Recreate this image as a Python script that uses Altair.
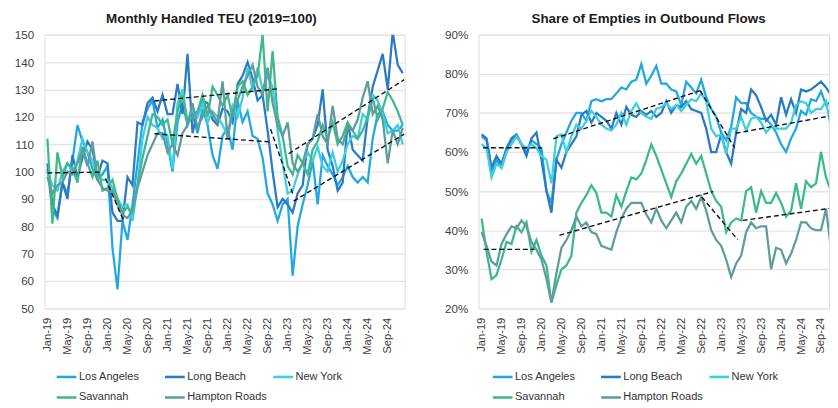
import json
import altair as alt
import pandas as pd

ports = ["Los Angeles", "Long Beach", "New York", "Savannah", "Hampton Roads"]
colors = ["#22a7e2", "#2b7bc4", "#3ccfe2", "#3db98b", "#5e9d9c"]
tick_labels = ["Jan-19", "May-19", "Sep-19", "Jan-20", "May-20", "Sep-20", "Jan-21", "May-21", "Sep-21",
               "Jan-22", "May-22", "Sep-22", "Jan-23", "May-23", "Sep-23", "Jan-24", "May-24", "Sep-24"]
months = list(range(72))  # Jan-19 .. Dec-24

# ---- Monthly Handled TEU (2019=100) ----
teu_la = [101, 86, 83, 96, 92, 104, 117, 111, 107, 101, 97, 99,
          102, 72, 57, 82, 75, 88, 103, 118, 123, 126, 116, 119,
          110, 100, 118, 125, 117, 121, 114, 123, 117, 106, 101, 113,
          116, 108, 126, 118, 122, 113, 112, 105, 92, 88, 82, 88,
          90, 62, 80, 88, 95, 104, 88, 106, 102, 99, 95, 98,
          102, 98, 96, 98, 96, 112, 121, 122, 117, 115, 115, 117]
teu_lb = [103, 88, 84, 96, 90, 106, 98, 105, 111, 108, 98, 104,
          103, 85, 82, 82, 98, 95, 118, 117, 125, 127, 122, 128,
          121, 121, 132, 121, 143, 114, 122, 126, 125, 119, 117, 123,
          122, 118, 132, 135, 140, 134, 126, 128, 115, 100, 87, 90,
          88, 85, 92, 95, 110, 112, 117, 130, 108, 102, 93, 96,
          118, 108, 106, 104, 120, 131, 137, 143, 130, 151, 139, 136]
teu_ny = [100, 95, 93, 100, 103, 100, 104, 112, 107, 104, 98, 97,
          97, 94, 90, 87, 88, 82, 95, 112, 120, 117, 116, 112,
          113, 101, 125, 130, 118, 123, 120, 125, 118, 122, 120, 117,
          113, 124, 120, 127, 138, 130, 138, 130, 135, 131, 115, 103,
          92, 93, 99, 103, 107, 104, 109, 102, 100, 107, 100, 104,
          110, 113, 112, 121, 119, 128, 126, 121, 114, 115, 117, 110]
teu_sav = [112, 81, 107, 98, 103, 101, 96, 109, 103, 98, 104, 93,
           94, 97, 90, 85, 87, 85, 95, 105, 113, 121, 120, 117,
           119, 110, 122, 128, 118, 120, 122, 128, 120, 131, 128, 124,
           128, 120, 131, 133, 128, 131, 135, 150, 122, 144, 120, 113,
           102, 99, 106, 103, 99, 108, 111, 117, 112, 118, 110, 113,
           118, 115, 112, 115, 120, 127, 119, 123, 129, 126, 122, 117]
teu_hr = [98, 92, 95, 96, 100, 99, 103, 108, 102, 111, 97, 94,
          93, 93, 88, 84, 83, 86, 94, 100, 106, 110, 114, 114,
          107, 110, 106, 114, 117, 125, 116, 120, 124, 121, 118, 133,
          112, 122, 126, 131, 135, 139, 131, 128, 138, 125, 117, 113,
          118, 103, 100, 103, 110, 112, 121, 113, 110, 124, 112, 110,
          116, 115, 119, 127, 133, 121, 124, 119, 103, 115, 110, 116]

# trend segments: month start, value start, month end, value end
teu_tr_x1 = [0, 11.6, 21.4, 21.4, 44.6, 48.2, 49.2]
teu_tr_y1 = [99.5, 97.5, 125.8, 113.8, 115.5, 106.5, 89.2]
teu_tr_x2 = [10.6, 15.1, 45.9, 44.2, 49.0, 71.3, 71.3]
teu_tr_y2 = [99.8, 82.5, 130.2, 110.9, 92.0, 133.6, 113.7]

# ---- Share of Empties in Outbound Flows (%) ----
emp_la = [64, 63, 55, 58, 56, 60, 63, 64, 62, 60, 63, 62,
          61, 50, 47, 58, 62, 65, 68, 70, 70, 68, 73, 73.5,
          73, 73.5, 73.5, 75, 76.5, 76, 78, 78.5, 82.5, 77.5, 79.5, 82,
          77.5, 77.5, 76, 75.5, 72, 78, 76.5, 75, 78.5, 74, 71, 69,
          65, 63, 66.5, 74, 72.5, 72.5, 70, 69, 68.5, 68.5, 67, 65,
          62, 60, 63.5, 66, 70.5, 69.5, 73.5, 73, 75.5, 72, 73, 72]
emp_lb = [64.5, 63.5, 56, 59, 57, 61, 63.5, 64.5, 62, 59, 63.5, 65,
          58, 50, 44.5, 58, 56, 60, 62, 64, 69.5, 70.5, 67.5, 70,
          69, 68, 66, 70, 67, 71.5, 69.5, 69, 70.5, 69.5, 70.5, 69,
          70, 73, 70, 72, 71.5, 73, 71, 70.5, 70, 66, 60, 60,
          64.5, 60, 57, 65, 71, 70, 76, 74.5, 71.5, 68, 69.5, 67,
          74, 69.5, 73.5, 70, 76, 75.5, 76, 77, 78, 76.5, 74.5, 76]
emp_ny = [62, 61, 53.5, 57, 56, 60, 62, 64, 62, 61, 62, 61,
          59, 58, 52, 64, 64.5, 60, 64, 67, 66, 68, 70.5, 69,
          67, 66, 65.5, 67, 70, 67, 70.5, 72.5, 70, 69, 68.5, 71,
          71.5, 72.5, 71, 72, 70.5, 72, 73.5, 73, 75, 73, 66, 64,
          64.5, 59.5, 66, 66, 69, 65.5, 68.5, 69, 67.5, 65, 66.5, 66,
          66, 66, 67.5, 72, 73, 72.5, 70, 71, 71, 73, 66, 70]
emp_sav = [43, 34.5, 27.5, 28.5, 32.5, 37, 36.5, 41, 39.5, 42, 34.5, 37.5,
           33.5, 31, 21.5, 26, 30, 31, 33.5, 44.5, 47, 49, 51.5, 49.5,
           44.5, 44.5, 43.5, 49, 46, 50, 53.5, 53, 54.5, 58, 62, 59,
           55.5, 52, 48.5, 52.5, 54.5, 57, 59.5, 57, 59, 54.5, 50, 47.5,
           46, 39.5, 42, 43, 42.5, 50, 51, 44.5, 50, 47, 47, 49.5,
           47, 43.5, 45, 52, 45.5, 52.5, 51, 52, 60, 53.5, 50, 50]
emp_hr = [39.5, 36, 32, 31, 36.5, 39, 41, 40.5, 42.5, 41, 37, 35,
          32.5, 27.5, 21.5, 29, 35.5, 37.5, 40, 43.5, 41, 42, 39.5, 39,
          36, 35.5, 35, 39.5, 43, 45.5, 47, 47, 47, 44, 42, 45.5,
          42.5, 40.5, 42.5, 44.5, 42, 46, 47.5, 45.5, 48.5, 45, 40, 37.5,
          36, 32.5, 28, 31.5, 33.5, 39.5, 42, 40.5, 41, 41, 30, 35.5,
          35, 31.5, 34, 37.5, 42, 42, 40.5, 40, 40, 45.5, 35, 35]

emp_tr_x1 = [0.3, 14.4, 43.8, 50.9, 0.4, 15.6, 44.1, 52.3]
emp_tr_y1 = [61.1, 63.4, 75.7, 64.8, 35.1, 38.7, 48.5, 42.5]
emp_tr_x2 = [12.0, 43.8, 50.7, 71.0, 10.6, 46.4, 51.3, 71.0]
emp_tr_y2 = [61.1, 75.7, 61.1, 69.5, 35.1, 49.9, 37.6, 45.8]

FONT = "Liberation Sans"
FS = 11.3


def long_df(series):
    rows = []
    for p, vals in zip(ports, series):
        for m, v in zip(months, vals):
            rows.append({"m": m, "v": v, "port": p})
    return pd.DataFrame(rows)


def panel(series, tx1, ty1, tx2, ty2, title, ydom, ylabel_expr, xdom, width, title_dx, leg_x):
    df = long_df(series)
    tdf = pd.DataFrame({"x1": tx1, "y1": ty1, "x2": tx2, "y2": ty2})
    xaxis = alt.Axis(values=list(range(0, 69, 4)),
                     labelExpr=json.dumps(tick_labels) + "[round(datum.value/4)]",
                     labelAngle=-90, labelAlign="right", labelBaseline="middle",
                     labelPadding=9, ticks=False, domain=False, grid=False,
                     labelFont=FONT, labelFontSize=FS, labelColor="#404040",
                     labelOverlap=False, labelBound=False, labelFlush=False, title=None)
    yaxis = alt.Axis(values=list(range(int(ydom[0]), int(ydom[1]) + 1, 10)),
                     labelExpr=ylabel_expr, ticks=False, domain=False, grid=True,
                     gridColor="#e4e4e4", gridWidth=1.3, labelPadding=11,
                     labelOverlap=False, labelFlush=False,
                     labelFont=FONT, labelFontSize=FS + 0.5, labelColor="#404040", title=None)
    xscale = alt.Scale(domain=xdom, nice=False, zero=False)
    yscale = alt.Scale(domain=ydom, nice=False, zero=False)
    lines = alt.Chart(df).mark_line(strokeWidth=2.3, clip=True).encode(
        x=alt.X("m:Q", scale=xscale, axis=xaxis),
        y=alt.Y("v:Q", scale=yscale, axis=yaxis),
        color=alt.Color("port:N", scale=alt.Scale(domain=ports, range=colors),
                        legend=alt.Legend(title=None, orient="none", legendX=leg_x, legendY=336,
                                          direction="horizontal", columns=3, gridAlign="all",
                                          columnPadding=1, rowPadding=4,
                                          symbolType="stroke", symbolSize=400,
                                          symbolStrokeWidth=2.6, labelOffset=1,
                                          labelFont=FONT, labelFontSize=11.2,
                                          labelColor="#333333", labelLimit=200)),
        order=alt.Order("m:Q"),
    )
    trends = alt.Chart(tdf).mark_rule(color="#111111", strokeWidth=1.4,
                                      strokeDash=[5, 3], clip=True).encode(
        x=alt.X("x1:Q", scale=xscale, axis=xaxis),
        y=alt.Y("y1:Q", scale=yscale, axis=yaxis),
        x2="x2:Q", y2="y2:Q")
    return alt.layer(lines, trends).properties(
        width=width, height=278,
        title=alt.TitleParams(title, font=FONT, fontSize=13.6, fontWeight="bold",
                              color="#1a1a1a", anchor="middle", frame="bounds",
                              offset=4, dx=title_dx))


left = panel([teu_la, teu_lb, teu_ny, teu_sav, teu_hr], teu_tr_x1, teu_tr_y1, teu_tr_x2, teu_tr_y2,
             "Monthly Handled TEU (2019=100)", [50, 150], "datum.value", [-0.6, 71.4], 366, 2, 11)
right = panel([emp_la, emp_lb, emp_ny, emp_sav, emp_hr], emp_tr_x1, emp_tr_y1, emp_tr_x2, emp_tr_y2,
              "Share of Empties in Outbound Flows", [20, 90], "datum.value + '%'", [-0.6, 69.6], 356, 12, 13)

chart = alt.hconcat(left, right, spacing=38).resolve_scale(
    x="independent", y="independent", color="independent"
).resolve_legend(color="independent").properties(
    padding={"left": 5, "top": 0, "right": 0, "bottom": 0}
).configure_view(stroke=None).configure(background="white")

chart.save("out.html", embed_options={"renderer": "svg", "actions": False})
